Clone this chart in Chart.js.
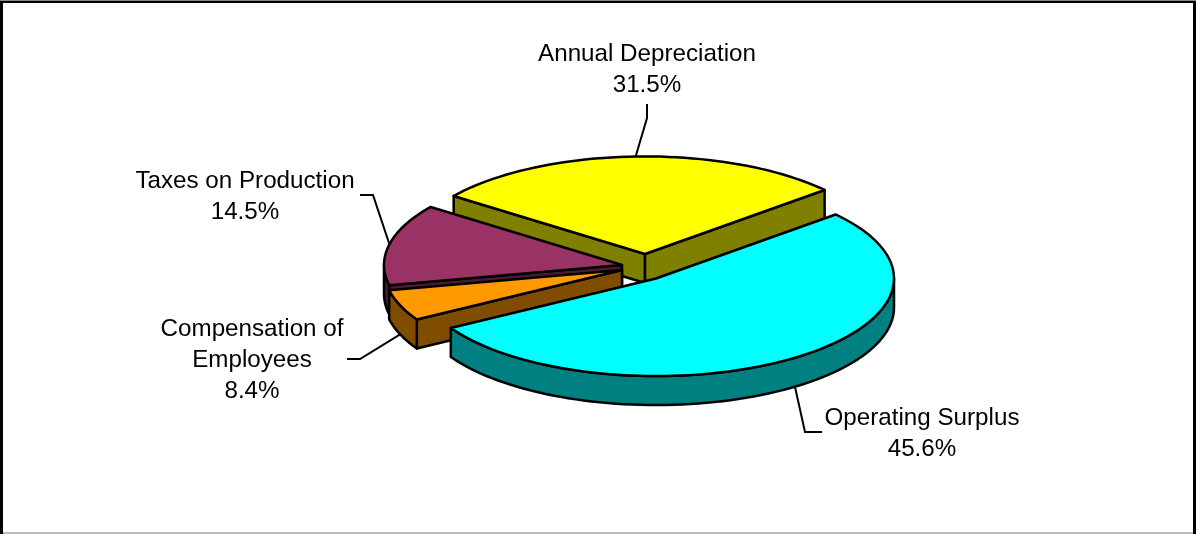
<!DOCTYPE html>
<html>
<head>
<meta charset="utf-8">
<title>Pie</title>
<script src="https://cdn.jsdelivr.net/npm/chart.js@4"></script>
<style>
  html, body { margin: 0; padding: 0; background: #fff; overflow: hidden; }
  #wrap { position: relative; width: 1196px; height: 534px; }
</style>
</head>
<body>
<div id="wrap"><canvas id="pie" width="1196" height="534"></canvas></div>
<script>
// data, clockwise from the upper right
const categories = ['Operating Surplus', 'Compensation of Employees', 'Taxes on Production', 'Annual Depreciation'];
const labelLines = [['Operating Surplus'], ['Compensation of', 'Employees'], ['Taxes on Production'], ['Annual Depreciation']];
const shares = [45.6, 8.4, 14.5, 31.5];
const topColors = ['#00FFFF', '#FF9900', '#993366', '#FFFF00'];
const sideColors = ['#008080', '#804D00', '#4D1A33', '#808000'];

// look of the 3-D view
const tilt = 0.41;
const depth = 29;
// how far each slice is pulled out, screen px
const explode = [[21, 10.5], [-13, 2], [-13, -3], [10, -14]];
// the original's 3-D view skews slice edges, degrees added to each slice's start
const edgeSkew = [0, 26.4, 14.6, 10.9];
// label centre x, first baseline y, then the elbow of the leader line
const labelSpots = [[922, 425], [252, 336], [245, 188], [647, 61]];
const leaderStarts = [[[822, 432], [805, 432]], [[347, 359], [360, 359]], [[360, 195], [373, 195]], [[647, 104], [647, 118]]];
const lineGap = 31;
const deg = Math.PI / 180;

function sliceGeom(arc, i) {
    return {
        cx: arc.x + explode[i][0],
        cy: arc.y + explode[i][1],
        r: arc.outerRadius,
        mid: (arc.startAngle + arc.endAngle) / 2
    };
}

function edgePoint(g, angle, drop) {
    return [g.cx + Math.cos(angle) * g.r, g.cy + Math.sin(angle) * g.r * tilt + (drop || 0)];
}

function arcPath(ctx, g, from, to, drop) {
    const steps = Math.max(2, Math.ceil(Math.abs(to - from) / (deg * 2)));
    for (let k = 0; k <= steps; k++) {
        const p = edgePoint(g, from + (to - from) * k / steps, drop);
        ctx.lineTo(p[0], p[1]);
    }
}

function fillAndLine(ctx, color) {
    ctx.fillStyle = color;
    ctx.fill();
    ctx.stroke();
}

function drawCut(ctx, g, a, color) {
    const p = edgePoint(g, a, 0);
    ctx.beginPath();
    ctx.moveTo(g.cx, g.cy);
    ctx.lineTo(p[0], p[1]);
    ctx.lineTo(p[0], p[1] + depth);
    ctx.lineTo(g.cx, g.cy + depth);
    ctx.closePath();
    fillAndLine(ctx, color);
}

function drawSides(ctx, arc, i) {
    const g = sliceGeom(arc, i);
    // a cut face shows only when it turns towards the viewer
    if (Math.cos(arc.startAngle) < 0) drawCut(ctx, g, arc.startAngle, sideColors[i]);
    if (Math.cos(arc.endAngle) > 0) drawCut(ctx, g, arc.endAngle, sideColors[i]);
    // outer wall, front half only
    const from = Math.max(arc.startAngle, 0);
    const to = Math.min(arc.endAngle, Math.PI);
    if (to > from) {
        ctx.beginPath();
        const first = edgePoint(g, from, 0);
        ctx.moveTo(first[0], first[1]);
        arcPath(ctx, g, from, to, 0);
        arcPath(ctx, g, to, from, depth);
        ctx.closePath();
        fillAndLine(ctx, sideColors[i]);
    }
}

const pie3d = {
    id: 'pie3d',
    afterDatasetsUpdate(chart) {
        // shift the edges once, each slice ends where the next one starts
        const arcs = chart.getDatasetMeta(0).data;
        const starts = arcs.map((a, i) => a.startAngle + edgeSkew[i] * deg);
        arcs.forEach((a, i) => {
            a.startAngle = starts[i];
            a.endAngle = i < arcs.length - 1 ? starts[i + 1] : starts[0] + Math.PI * 2;
            a.circumference = a.endAngle - a.startAngle;
        });
    },
    beforeDatasetDraw(chart) {
        const ctx = chart.ctx;
        const arcs = chart.getDatasetMeta(0).data;
        const backToFront = [3, 2, 1, 0];
        ctx.save();
        ctx.lineWidth = 2.5;
        ctx.strokeStyle = '#000';
        ctx.lineJoin = 'round';
        backToFront.forEach(i => drawSides(ctx, arcs[i], i));
        backToFront.forEach(i => {
            const arc = arcs[i];
            const g = sliceGeom(arc, i);
            ctx.save();
            ctx.translate(g.cx, g.cy);
            ctx.scale(1, tilt);
            ctx.translate(-arc.x, -arc.y);
            arc.draw(ctx);
            ctx.restore();
            // outline here so the squash does not thin it
            ctx.beginPath();
            ctx.moveTo(g.cx, g.cy);
            arcPath(ctx, g, arc.startAngle, arc.endAngle, 0);
            ctx.closePath();
            ctx.stroke();
        });
        ctx.restore();
        return false;
    },
    afterDraw(chart) {
        const ctx = chart.ctx;
        const arcs = chart.getDatasetMeta(0).data;
        ctx.save();
        // leaders aim at the middle of each slice
        ctx.strokeStyle = '#000';
        ctx.lineWidth = 2;
        arcs.forEach((arc, i) => {
            const g = sliceGeom(arc, i);
            const front = Math.sin(g.mid) > 0;
            const end = edgePoint(g, g.mid, front ? depth : 0);
            const pts = leaderStarts[i];
            ctx.beginPath();
            ctx.moveTo(pts[0][0], pts[0][1]);
            ctx.lineTo(pts[1][0], pts[1][1]);
            ctx.lineTo(end[0], end[1]);
            ctx.stroke();
        });
        ctx.fillStyle = '#000';
        ctx.font = '24.2px "Liberation Sans", Arial, sans-serif';
        ctx.textAlign = 'center';
        ctx.textBaseline = 'alphabetic';
        arcs.forEach((arc, i) => {
            const lines = labelLines[i].concat([shares[i].toFixed(1) + '%']);
            lines.forEach((t, n) => ctx.fillText(t, labelSpots[i][0], labelSpots[i][1] + n * lineGap));
        });
        // picture frame
        ctx.fillStyle = '#000';
        ctx.fillRect(0, 0, 3, 534);
        ctx.fillRect(1193, 0, 3, 534);
        ctx.fillRect(0, 1, 1196, 2);
        ctx.fillStyle = '#888';
        ctx.fillRect(0, 0, 1196, 1);
        ctx.fillStyle = '#bbb';
        ctx.fillRect(3, 532, 1190, 2);
        ctx.restore();
    }
};

new Chart(document.getElementById('pie'), {
    type: 'pie',
    data: {
        labels: categories,
        datasets: [{
            data: shares,
            backgroundColor: topColors,
            borderWidth: 0,
            radius: 238
        }]
    },
    options: {
        responsive: false,
        animation: false,
        rotation: 49,
        layout: { padding: { left: 74, top: 2 } },
        plugins: { legend: { display: false }, tooltip: { enabled: false } }
    },
    plugins: [pie3d]
});
</script>
</body>
</html>
